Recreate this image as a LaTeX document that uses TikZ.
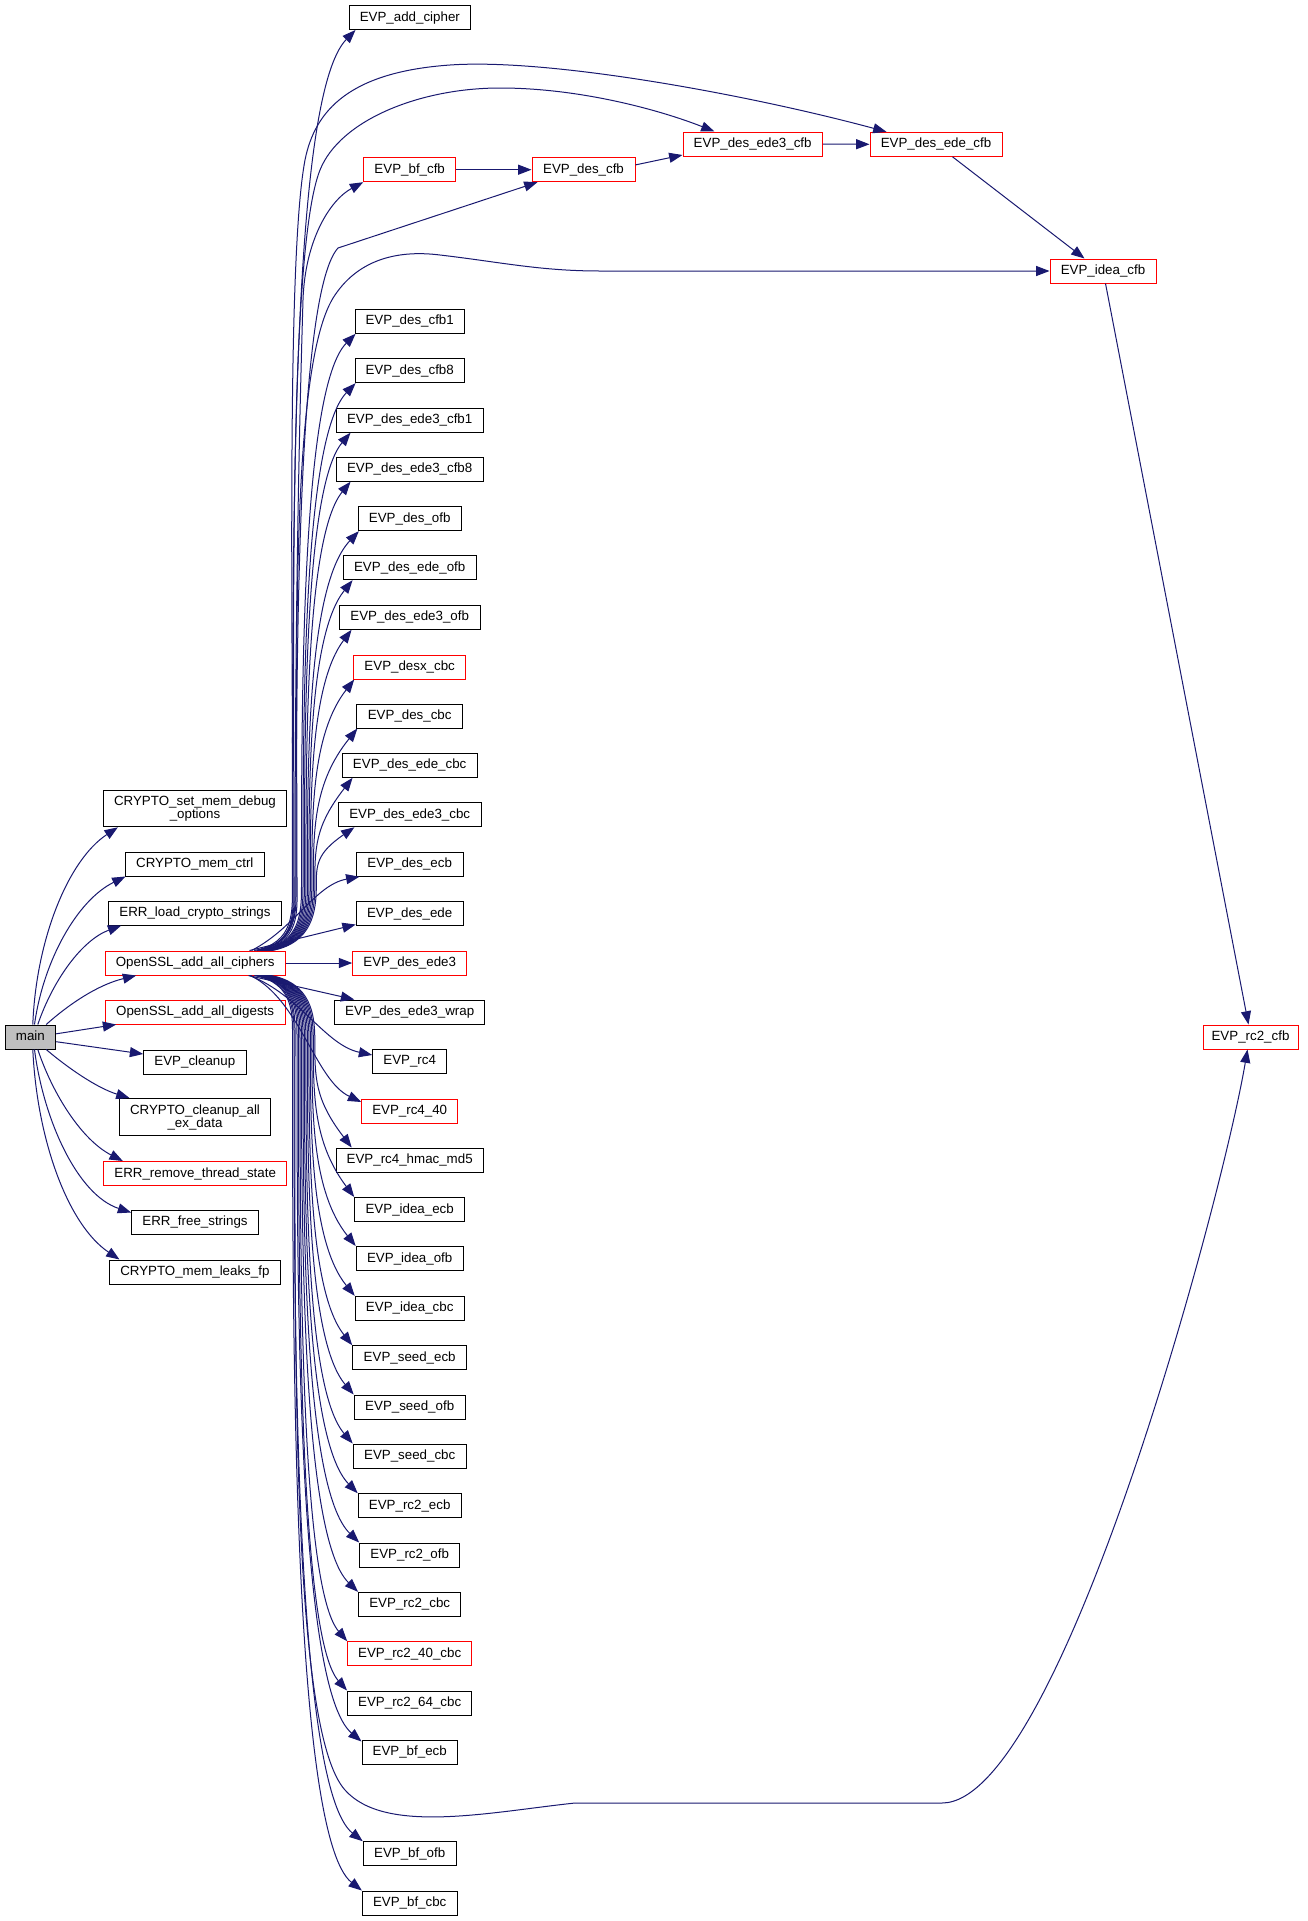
\documentclass[tikz,border=0pt]{standalone}
\usepackage{fontspec}
\setmainfont{Liberation Sans}
\usetikzlibrary{arrows.meta,calc}
\definecolor{edgeblue}{HTML}{191970}
\definecolor{nodered}{HTML}{FF0000}
\definecolor{maingray}{HTML}{BFBFBF}
\begin{document}
\begin{tikzpicture}[x=0.75pt,y=-0.75pt,
  boxbase/.style={draw=black, line width=0.75pt, inner sep=0pt, minimum height=18pt, font=\fontsize{10pt}{9.8pt}\selectfont, fill=white},
  box/.style={boxbase, text height=7.5pt, text depth=2pt},
  redbox/.style={box, draw=nodered},
  bw/.code={\pgfmathsetmacro\bwtmp{#1*0.75}\tikzset{minimum width=\bwtmp pt}},
  edge/.style={draw=edgeblue, line width=0.75pt, -{Triangle[length=10pt,width=7.5pt]}},
]
\fill[white] (0,0) rectangle (1308,1921);
\path[use as bounding box] (0,0) rectangle (1308,1921);

% ---- column 1 and 2
\node[box, fill=maingray, bw=50.7] (main) at (30.35,1037) {main};
\node[boxbase, align=center, bw=183.3, minimum height=27.6pt] (setmem) at (195,808.4) {CRYPTO\_set\_mem\_debug\\\_options};
\node[box, bw=139] (memctrl) at (194.8,864) {CRYPTO\_mem\_ctrl};
\node[box, bw=173.3] (errload) at (195,913) {ERR\_load\_crypto\_strings};
\node[redbox, bw=180.3] (osac) at (195.15,963) {OpenSSL\_add\_all\_ciphers};
\node[redbox, bw=179.7] (digests) at (195.15,1012) {OpenSSL\_add\_all\_digests};
\node[box, bw=102.3] (cleanup) at (194.85,1062) {EVP\_cleanup};
\node[boxbase, align=center, bw=151.3, minimum height=28.1pt] (cleanall) at (195,1117.25) {CRYPTO\_cleanup\_all\\\_ex\_data};
\node[redbox, bw=183] (remove) at (195.2,1173.5) {ERR\_remove\_thread\_state};
\node[box, bw=126.7] (freestr) at (195,1222) {ERR\_free\_strings};
\node[box, bw=170.3] (leaks) at (194.85,1272) {CRYPTO\_mem\_leaks\_fp};

% ---- column 3
\node[box, bw=121.7] (addc) at (409.85,17.5) {EVP\_add\_cipher};
\node[redbox, bw=92] (bfcfb) at (409.7,169.7) {EVP\_bf\_cfb};
\node[box, bw=109.3] (c1) at (409.7,321.3) {EVP\_des\_cfb1};
\node[box, bw=109.3] (c8) at (409.7,370.7) {EVP\_des\_cfb8};
\node[box, bw=146.7] (e3c1) at (409.7,420.2) {EVP\_des\_ede3\_cfb1};
\node[box, bw=146.7] (e3c8) at (409.7,469.2) {EVP\_des\_ede3\_cfb8};
\node[box, bw=102.7] (dofb) at (409.7,518.7) {EVP\_des\_ofb};
\node[box, bw=133.3] (eofb) at (409.7,567.7) {EVP\_des\_ede\_ofb};
\node[box, bw=140.7] (e3ofb) at (409.7,617.3) {EVP\_des\_ede3\_ofb};
\node[redbox, bw=112] (dxcbc) at (409.7,667) {EVP\_desx\_cbc};
\node[box, bw=105.7] (dcbc) at (409.7,716) {EVP\_des\_cbc};
\node[box, bw=135.3] (ecbc) at (409.7,765.3) {EVP\_des\_ede\_cbc};
\node[box, bw=143] (e3cbc) at (409.7,814.8) {EVP\_des\_ede3\_cbc};
\node[box, bw=107] (decb) at (409.7,864.2) {EVP\_des\_ecb};
\node[box, bw=107] (dede) at (409.7,913.5) {EVP\_des\_ede};
\node[redbox, bw=114] (dede3) at (409.7,963) {EVP\_des\_ede3};
\node[box, bw=150] (wrap) at (409.7,1012) {EVP\_des\_ede3\_wrap};
\node[box, bw=74] (rcfour) at (409.7,1061) {EVP\_rc4};
\node[redbox, bw=96] (rcforty) at (409.7,1111) {EVP\_rc4\_40};
\node[box, bw=147] (hmac) at (409.7,1160) {EVP\_rc4\_hmac\_md5};
\node[box, bw=110] (iecb) at (409.7,1209.5) {EVP\_idea\_ecb};
\node[box, bw=107] (iofb) at (409.7,1258.5) {EVP\_idea\_ofb};
\node[box, bw=109] (icbc) at (409.7,1308.3) {EVP\_idea\_cbc};
\node[box, bw=114] (secb) at (409.7,1357.7) {EVP\_seed\_ecb};
\node[box, bw=111] (sofb) at (409.7,1407) {EVP\_seed\_ofb};
\node[box, bw=113] (scbc) at (409.7,1456) {EVP\_seed\_cbc};
\node[box, bw=103] (rcecb) at (409.7,1505.7) {EVP\_rc2\_ecb};
\node[box, bw=100] (rcofb) at (409.7,1555) {EVP\_rc2\_ofb};
\node[box, bw=102.3] (rccbc) at (409.7,1604.3) {EVP\_rc2\_cbc};
\node[redbox, bw=124] (rcfcbc) at (409.7,1653.7) {EVP\_rc2\_40\_cbc};
\node[box, bw=124.3] (rcscbc) at (409.7,1703) {EVP\_rc2\_64\_cbc};
\node[box, bw=95.3] (bfecb) at (409.7,1752) {EVP\_bf\_ecb};
\node[box, bw=93] (bfofb) at (409.7,1853.7) {EVP\_bf\_ofb};
\node[box, bw=94.7] (bfcbc) at (409.7,1903) {EVP\_bf\_cbc};

% ---- right part
\node[redbox, bw=103] (descfb) at (583.5,169.7) {EVP\_des\_cfb};
\node[redbox, bw=139.3] (ede3cfb) at (752.65,144) {EVP\_des\_ede3\_cfb};
\node[redbox, bw=132] (edecfb) at (936,144.3) {EVP\_des\_ede\_cfb};
\node[redbox, bw=106] (ideacfb) at (1103,271) {EVP\_idea\_cfb};
\node[redbox, bw=95] (rctwocfb) at (1250.5,1037) {EVP\_rc2\_cfb};

% ---- edges from main
\draw[edge] ($(main.north west)+(28.3,0)$) .. controls (36,940) and (68,860) .. ($(setmem.south west)+(15,0)$);
\draw[edge] ($(main.north west)+(30,0)$) .. controls (43.5,960) and (77.5,900) .. ($(memctrl.south west)+(0.7,0)$);
\draw[edge] ($(main.north west)+(33.3,0)$) .. controls (53,980) and (82,940) .. ($(errload.south west)+(13.4,0)$);
\draw[edge] ($(main.north west)+(41.7,0)$) .. controls (68,1005) and (97,985) .. ($(osac.south west)+(31.7,0)$);
\draw[edge] ($(main.east)+(0,-3.2)$) -- ($(digests.south west)+(11.4,0)$);
\draw[edge] ($(main.east)+(0,4.7)$) -- ($(cleanup.west)+(0,-8)$);
\draw[edge] ($(main.south west)+(41.7,0)$) .. controls (68,1068) and (97,1088) .. ($(cleanall.north west)+(10.7,0)$);
\draw[edge] ($(main.south west)+(33.3,0)$) .. controls (53,1095) and (82,1140) .. ($(remove.north west)+(19.6,0)$);
\draw[edge] ($(main.south west)+(30,0)$) .. controls (43.5,1120) and (77.5,1195) .. ($(freestr.north west)+(0,3)$);
\draw[edge] ($(main.south west)+(28.3,0)$) .. controls (37,1140) and (68,1225) .. ($(leaks.north west)+(10.3,0)$);

% ---- edges from OpenSSL_add_all_ciphers, upward
\draw[edge] ($(osac.north west)+(149.7,0)$) .. controls (294.7,943) and (292.4,911) .. (292.4,886) .. controls (292.4,500) and (292,95) .. ($(addc.south west)+(7,0)$);
\draw[edge] ($(osac.north west)+(152,0)$) .. controls (297,943) and (293,911) .. (293,886) .. controls (293,650) and (286,260) .. (305,160) .. controls (315,110) and (350,72) .. (450,65) .. controls (550,58) and (750,95) .. ($(edecfb.north west)+(17,0)$);
\draw[edge] ($(osac.north west)+(152.5,0)$) .. controls (297.5,943) and (294,911) .. (294,886) .. controls (294,650) and (288,250) .. (320,170) .. controls (340,120) and (420,88) .. (500,88) .. controls (580,88) and (660,110) .. ($(ede3cfb.north west)+(32,0)$);
\draw[edge] ($(osac.north west)+(153,0)$) .. controls (298,943) and (295,911) .. (295,886) .. controls (295,600) and (300,400) .. (303,300) .. controls (305,240) and (330,200) .. (bfcfb.south west);
\draw[edge] ($(osac.north west)+(153.2,0)$) .. controls (298.2,943) and (296,911) .. (296,886) .. controls (296,600) and (300,290) .. (338,248) -- ($(descfb.south west)+(6,0)$);
\draw[edge] ($(osac.north west)+(155.3,0)$) .. controls (300.3,943) and (297,911) .. (297,886) .. controls (297,650) and (290,360) .. (335,295) .. controls (360,258) and (400,250) .. (440,255) .. controls (500,262) and (540,271) .. (600,271) -- (ideacfb.west);
\draw[edge] ($(osac.north west)+(156.4,0)$) .. controls (301.4,943) and (301.5,911) .. (301.5,886) .. controls (301.5,692.6) and (301.5,388.3) .. ($(c1.south west)+(1,0)$);
\draw[edge] ($(osac.north west)+(157.5,0)$) .. controls (302.5,943) and (303,911) .. (303,886) .. controls (303,709.8) and (303,437.7) .. ($(c8.south west)+(1,0)$);
\draw[edge] ($(osac.north west)+(158.6,0)$) .. controls (303.6,943) and (304.4,911) .. (304.4,886) .. controls (304.4,727.2) and (304.4,487.2) .. ($(e3c1.south west)+(14.7,0)$);
\draw[edge] ($(osac.north west)+(159.7,0)$) .. controls (304.7,943) and (305.9,911) .. (305.9,886) .. controls (305.9,744.3) and (305.9,536.2) .. ($(e3c8.south west)+(14.7,0)$);
\draw[edge] ($(osac.north west)+(160.8,0)$) .. controls (305.8,943) and (307.4,911) .. (307.4,886) .. controls (307.4,761.6) and (307.4,585.7) .. ($(dofb.south west)+(1,0)$);
\draw[edge] ($(osac.north west)+(161.8,0)$) .. controls (306.8,943) and (308.9,911) .. (308.9,886) .. controls (308.9,778.8) and (308.9,634.7) .. ($(eofb.south west)+(10,0)$);
\draw[edge] ($(osac.north west)+(162.9,0)$) .. controls (307.9,943) and (310.3,911) .. (310.3,886) .. controls (310.3,796.2) and (310.3,684.3) .. ($(e3ofb.south west)+(12.7,0)$);
\draw[edge] ($(osac.north west)+(164,0)$) .. controls (309,943) and (311.8,911) .. (311.8,886) .. controls (311.8,813.6) and (311.8,734) .. ($(dxcbc.south west)+(1,0)$);
\draw[edge] ($(osac.north west)+(165.1,0)$) .. controls (310.1,943) and (313.3,911) .. (313.3,886) .. controls (313.3,830.7) and (313.3,783) .. ($(dcbc.south west)+(1,0)$);
\draw[edge] ($(osac.north west)+(166.2,0)$) .. controls (311.2,943) and (314.8,911) .. (314.8,886) .. controls (314.8,848) and (314.8,826.2) .. ($(ecbc.south west)+(11,0)$);
\draw[edge] ($(osac.north west)+(167.3,0)$) .. controls (312.3,943) and (316.3,911) .. (316.3,886) .. controls (316.3,865.3) and (316.3,853.4) .. ($(e3cbc.south west)+(16.7,0)$);
\draw[edge] ($(osac.north west)+(147,0)$) .. controls (295,928) and (315,885) .. ($(decb.south west)+(3.7,0)$);
\draw[edge] ($(osac.north west)+(145,0)$) -- ($(dede.south west)+(0,-1.5)$);
\draw[edge] (osac.east) -- (dede3.west);

% ---- edges from OpenSSL_add_all_ciphers, downward
\draw[edge] ($(osac.south west)+(144,0)$) -- ($(wrap.north west)+(20,0)$);
\draw[edge] ($(osac.south west)+(145,0)$) .. controls (300,995) and (325,1045) .. ($(rcfour.west)+(0,-6)$);
\draw[edge] ($(osac.south west)+(146,0)$) .. controls (300,1000) and (315,1080) .. ($(rcforty.west)+(0,-9)$);
\draw[edge] ($(osac.south west)+(166.2,0)$) .. controls (311.2,983) and (314.8,1015) .. (314.8,1040) .. controls (314.8,1077.8) and (314.8,1099.4) .. ($(hmac.north west)+(16,0)$);
\draw[edge] ($(osac.south west)+(165.1,0)$) .. controls (310.1,983) and (313.3,1015) .. (313.3,1040) .. controls (313.3,1095.1) and (313.3,1142.5) .. (iecb.north west);
\draw[edge] ($(osac.south west)+(164,0)$) .. controls (309,983) and (311.9,1015) .. (311.9,1040) .. controls (311.9,1112.3) and (311.9,1191.5) .. (iofb.north west);
\draw[edge] ($(osac.south west)+(162.9,0)$) .. controls (307.9,983) and (310.4,1015) .. (310.4,1040) .. controls (310.4,1129.7) and (310.4,1241.3) .. (icbc.north west);
\draw[edge] ($(osac.south west)+(161.8,0)$) .. controls (306.8,983) and (308.9,1015) .. (308.9,1040) .. controls (308.9,1147) and (308.9,1290.7) .. (secb.north west);
\draw[edge] ($(osac.south west)+(160.8,0)$) .. controls (305.8,983) and (307.4,1015) .. (307.4,1040) .. controls (307.4,1164.3) and (307.4,1340) .. (sofb.north west);
\draw[edge] ($(osac.south west)+(159.7,0)$) .. controls (304.7,983) and (305.9,1015) .. (305.9,1040) .. controls (305.9,1181.4) and (305.9,1389) .. (scbc.north west);
\draw[edge] ($(osac.south west)+(158.6,0)$) .. controls (303.6,983) and (304.4,1015) .. (304.4,1040) .. controls (304.4,1198.8) and (304.4,1438.7) .. (rcecb.north west);
\draw[edge] ($(osac.south west)+(157.5,0)$) .. controls (302.5,983) and (303,1015) .. (303,1040) .. controls (303,1216.1) and (303,1488) .. (rcofb.north west);
\draw[edge] ($(osac.south west)+(156.4,0)$) .. controls (301.4,983) and (301.5,1015) .. (301.5,1040) .. controls (301.5,1233.3) and (301.5,1537.3) .. (rccbc.north west);
\draw[edge] ($(osac.south west)+(155.3,0)$) .. controls (300.3,983) and (300,1015) .. (300,1040) .. controls (300,1250.6) and (300,1586.7) .. (rcfcbc.north west);
\draw[edge] ($(osac.south west)+(154.2,0)$) .. controls (299.2,983) and (298.5,1015) .. (298.5,1040) .. controls (298.5,1267.9) and (298.5,1636) .. (rcscbc.north west);
\draw[edge] ($(osac.south west)+(153.2,0)$) .. controls (298.2,983) and (297,1015) .. (297,1040) .. controls (297,1285.7) and (297,1687) .. ($(bfecb.north west)+(0,2)$);
\draw[edge] ($(osac.south west)+(152.5,0)$) .. controls (297.5,983) and (295,1015) .. (295,1040) .. controls (295,1350) and (291,1730) .. (345,1790) .. controls (385,1835) and (490,1812) .. (575,1803) -- (942,1803) .. controls (1060,1803) and (1222,1200) .. ($(rctwocfb.south west)+(45,0)$);
\draw[edge] ($(osac.south west)+(150.9,0)$) .. controls (295.9,983) and (294,1015) .. (294,1040) .. controls (294,1320.6) and (294,1786.7) .. (bfofb.north west);
\draw[edge] ($(osac.south west)+(149.8,0)$) .. controls (294.8,983) and (292.5,1015) .. (292.5,1040) .. controls (292.5,1337.9) and (292.5,1836) .. (bfcbc.north west);

% ---- chain on the right
\draw[edge] (bfcfb.east) -- (descfb.west);
\draw[edge] ($(descfb.north east)+(0,7.7)$) -- ($(ede3cfb.south west)+(0,-1.5)$);
\draw[edge] (ede3cfb.east) -- (edecfb.west);
\draw[edge] ($(edecfb.south west)+(83,0)$) -- ($(ideacfb.north west)+(35,0)$);
\draw[edge] ($(ideacfb.south west)+(56,0)$) -- ($(rctwocfb.north west)+(46,0)$);
\end{tikzpicture}
\end{document}
